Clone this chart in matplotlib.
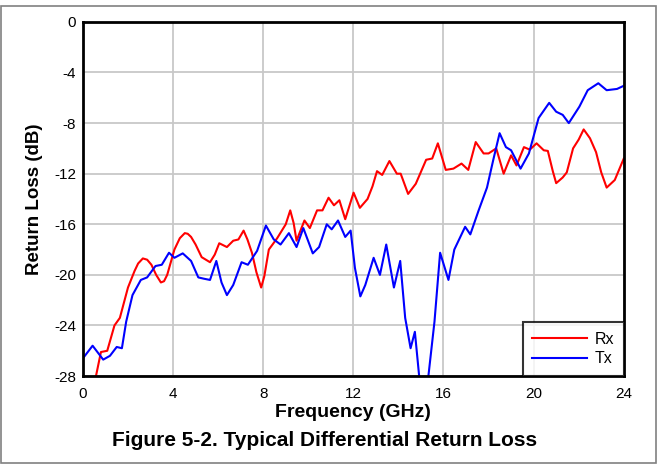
import matplotlib.pyplot as plt
from matplotlib.patches import Rectangle

plt.rcParams['font.family'] = ['Liberation Sans', 'DejaVu Sans']

# Rx curve (GHz, dB)
rx_f = [0.3, 0.58, 0.8, 1.08, 1.4, 1.64, 2.0, 2.29, 2.45, 2.66, 2.85, 3.04, 3.25, 3.46, 3.6, 3.74,
        4.06, 4.3, 4.52, 4.65, 4.8, 5.0, 5.27, 5.64, 5.85, 6.05, 6.39, 6.67, 6.9, 7.13, 7.3, 7.5,
        7.7, 7.91, 8.05, 8.25, 8.62, 9.0, 9.2, 9.35, 9.48, 9.83, 10.07, 10.39, 10.63, 10.9, 11.14,
        11.38, 11.64, 12.01, 12.29, 12.63, 12.85, 13.05, 13.28, 13.6, 13.93, 14.1, 14.43, 14.77,
        15.23, 15.5, 15.75, 15.9, 16.1, 16.44, 16.8, 17.1, 17.43, 17.78, 18.0, 18.34, 18.67,
        19.0, 19.24, 19.57, 19.83, 20.13, 20.45, 20.63, 20.85, 21.0, 21.29, 21.47, 21.75, 22.0,
        22.22, 22.5, 22.77, 23.0, 23.24, 23.6, 24.0]
rx_db = [-30.5, -28.0, -26.1, -26.0, -24.0, -23.4, -21.0, -19.7, -19.1, -18.7, -18.8, -19.2, -20.0,
         -20.6, -20.5, -20.0, -18.0, -17.1, -16.7, -16.75, -17.0, -17.6, -18.6, -19.0, -18.4,
         -17.5, -17.8, -17.3, -17.2, -16.5, -17.2, -18.25, -19.8, -21.0, -20.1, -18.0, -17.1,
         -16.0, -14.9, -15.9, -17.3, -15.7, -16.3, -14.9, -14.9, -13.9, -14.5, -14.1, -15.6,
         -13.5, -14.7, -14.0, -13.0, -11.8, -12.1, -11.0, -12.0, -12.0, -13.6, -12.8, -10.9,
         -10.8, -9.6, -10.5, -11.7, -11.6, -11.2, -11.7, -9.5, -10.4, -10.4, -10.0, -12.0,
         -10.55, -11.35, -9.9, -10.1, -9.6, -10.15, -10.2, -11.8, -12.75, -12.3, -11.9, -10.0,
         -9.3, -8.5, -9.2, -10.3, -11.9, -13.1, -12.5, -10.8]

# Tx curve (GHz, dB)
tx_f = [0.0, 0.43, 0.9, 1.2, 1.5, 1.73, 1.92, 2.2, 2.57, 2.85, 3.22, 3.5, 3.82, 4.06, 4.43, 4.8,
        5.12, 5.36, 5.64, 5.92, 6.15, 6.39, 6.67, 7.04, 7.32, 7.73, 8.12, 8.47, 8.77, 9.14, 9.48,
        9.78, 10.2, 10.48, 10.82, 11.04, 11.32, 11.64, 11.88, 12.07, 12.31, 12.53, 12.9, 13.18,
        13.46, 13.8, 14.08, 14.3, 14.54, 14.73, 14.92, 15.12, 15.33, 15.6, 15.85, 16.22, 16.48,
        16.72, 16.96, 17.19, 17.56, 17.93, 18.21, 18.49, 18.77, 19.0, 19.42, 19.79, 20.22, 20.69,
        21.0, 21.29, 21.56, 22.03, 22.4, 22.87, 23.24, 23.7, 24.0]
tx_db = [-26.6, -25.6, -26.7, -26.4, -25.7, -25.8, -23.7, -21.6, -20.4, -20.2, -19.3, -19.2, -18.25,
         -18.65, -18.3, -18.9, -20.2, -20.3, -20.4, -18.9, -20.6, -21.6, -20.8, -19.0, -19.2, -18.1,
         -16.1, -17.2, -17.6, -16.7, -17.8, -16.3, -18.3, -17.8, -16.0, -16.4, -15.7, -17.0, -16.5,
         -19.45, -21.7, -20.8, -18.65, -20.0, -17.6, -21.0, -18.9, -23.4, -25.8, -24.5, -28.0,
         -31.0, -28.0, -23.7, -18.25, -20.4, -18.0, -17.1, -16.2, -16.8, -14.9, -13.1, -10.9,
         -8.8, -9.9, -10.15, -11.6, -10.4, -7.6, -6.4, -7.1, -7.35, -8.0, -6.7, -5.4, -4.85, -5.4,
         -5.3, -5.05]

x_ticks = [0, 4, 8, 12, 16, 20, 24]
y_ticks = [0, -4, -8, -12, -16, -20, -24, -28]

fig = plt.figure(figsize=(6.58, 4.66), dpi=100)
ax = fig.add_axes([0.126, 0.193, 0.822, 0.760])

ax.plot(rx_f, rx_db, color='#ff0000', lw=1.5, label='Rx', solid_joinstyle='round')
ax.plot(tx_f, tx_db, color='#0000ff', lw=1.5, label='Tx', solid_joinstyle='round')

ax.set_xlim(0, 24)
ax.set_ylim(-28, 0)
ax.set_xticks(x_ticks)
ax.set_yticks(y_ticks)
ax.set_yticklabels([str(v) for v in y_ticks])
ax.grid(True, color='#c8c8c8', lw=1.3)
ax.set_axisbelow(True)
ax.tick_params(axis='x', length=0, labelsize=11, pad=8)
ax.tick_params(axis='y', length=0, labelsize=11, pad=5)
for s in ax.spines.values():
    s.set_linewidth(2)
    s.set_color('black')

ax.set_xlabel('Frequency (GHz)', fontsize=14, fontweight='bold', labelpad=2)
ax.set_ylabel('Return Loss (dB)', fontsize=13.5, fontweight='bold', labelpad=8)

leg = ax.legend(loc='lower right', fontsize=11.5, frameon=True, fancybox=False,
                borderaxespad=0, handlelength=3.4, borderpad=0.6, labelspacing=0.3,
                handletextpad=0.5)
leg.get_frame().set_edgecolor('black')
leg.get_frame().set_linewidth(1.5)

fig.text(0.494, 0.055, 'Figure 5-2. Typical Differential Return Loss', ha='center', va='center',
         fontsize=15, fontweight='bold')

fig.patches.append(Rectangle((0.001, 0.006), 0.996, 0.981, transform=fig.transFigure,
                             fill=False, edgecolor='#808080', lw=1.2))

fig.savefig('out.png', dpi=100)
